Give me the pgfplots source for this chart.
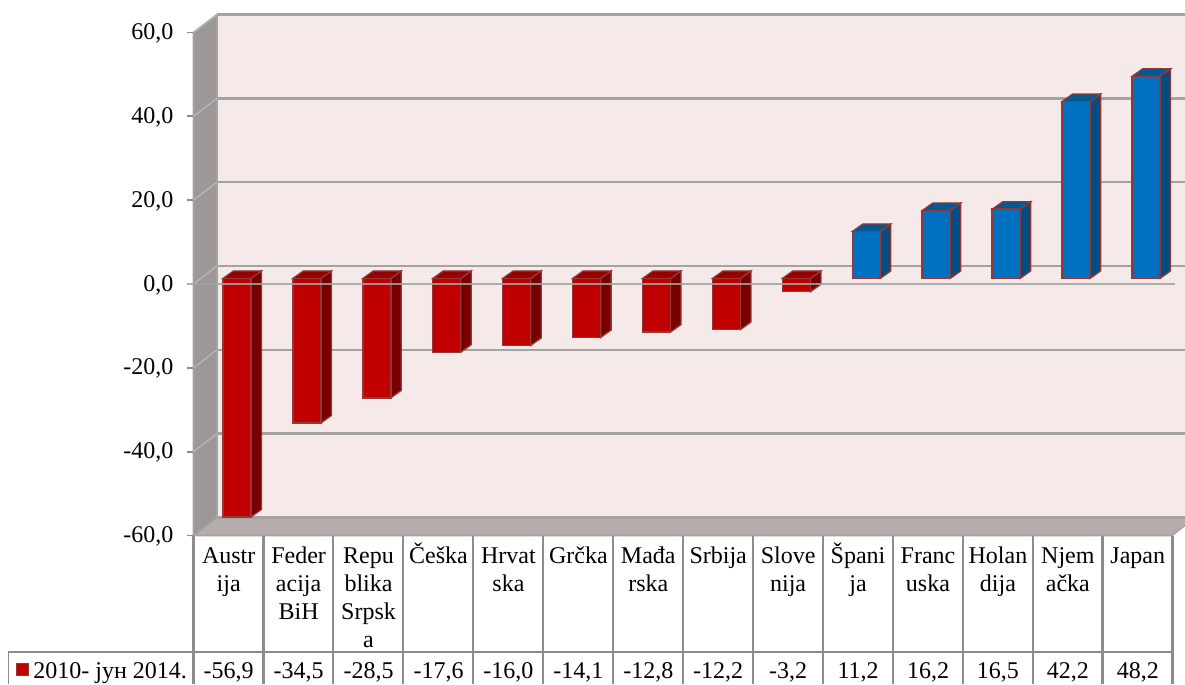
\documentclass[border=0pt]{standalone}
\usepackage{fontspec}
\setmainfont{Liberation Serif}
\usepackage{pgfplots}
\pgfplotsset{compat=1.18}
\definecolor{wall}{HTML}{F5E9E9}
\definecolor{sidewall}{HTML}{9E9797}
\definecolor{floorc}{HTML}{B8ADAD}
\definecolor{gridc}{HTML}{A3A3A0}
\definecolor{tablec}{HTML}{8C8C8C}
\definecolor{redf}{HTML}{C00000}
\definecolor{reds}{HTML}{780000}
\definecolor{redt}{HTML}{950000}
\definecolor{bluef}{HTML}{0070C0}
\definecolor{blues}{HTML}{024E82}
\definecolor{bluet}{HTML}{005A96}
\definecolor{edgec}{HTML}{953735}
% side and top of one bar: index, value, side colour, top colour
\newcommand{\barbox}[4]{%
  \pgfmathsetmacro{\xr}{#1+0.2}
  \pgfmathsetmacro{\xl}{#1-0.2}
  \pgfmathsetmacro{\xb}{#1+0.35}
  \pgfmathsetmacro{\xc}{#1-0.05}
  \pgfmathsetmacro{\yt}{max(#2,0)}
  \pgfmathsetmacro{\ytb}{\yt+1.789}
  \pgfmathsetmacro{\yvb}{#2+1.789}
  \addplot[fill=#3,draw=edgec,line width=1.3pt,xshift=1pt,yshift=5.6pt,forget plot] coordinates {(\xr,0)(\xr,#2)(\xb,\yvb)(\xb,1.789)} --cycle;
  \addplot[fill=#4,draw=edgec,line width=1.3pt,xshift=1pt,yshift=5.6pt,forget plot] coordinates {(\xl,\yt)(\xr,\yt)(\xb,\ytb)(\xc,\ytb)} --cycle;
}
\newcommand{\tabval}[2]{\node[anchor=base] at (axis cs:#1-0.104,-94.2) {#2};}
% same first-line height for every category label
\newcommand{\fl}{\rule{0pt}{22pt}}
\begin{document}
\begin{tikzpicture}
\begin{axis}[
  scale only axis,
  width=1185pt, height=684pt,
  xmin=-3.3748, xmax=13.571,
  ymin=-95.42, ymax=67.75,
  axis line style={draw=none},
  major tick length=0pt,
  tick style={draw=none},
  font=\fontsize{24}{28}\selectfont,
  ytick={-60,-40,-20,0,20,40,60},
  yticklabels={{-60,0},{-40,0},{-20,0},{0,0},{20,0},{40,0},{60,0}},
  yticklabel style={anchor=east,xshift=173.5pt,yshift=-1pt,inner sep=0pt},
  xtick={0,...,13},
  xticklabels={{\fl Austr\\ija},{\fl Feder\\acija\\BiH},{\fl Repu\\blika\\Srpsk\\a},{\fl Češka},{\fl Hrvat\\ska},{\fl Grčka},{\fl Mađa\\rska},{\fl Srbija},{\fl Slove\\nija},{\fl Špani\\ja},{\fl Franc\\uska},{\fl Holan\\dija},{\fl Njem\\ačka},{\fl Japan}},
  xticklabel style={align=center,anchor=north,xshift=-7.3pt,yshift=143pt,inner sep=0pt},
]
% back wall, side wall, floor
\addplot[fill=wall,draw=none,forget plot] coordinates {(-0.2717,64.29)(14,64.29)(14,-55.71)(-0.2717,-55.71)} --cycle;
\addplot[fill=sidewall,draw=gridc,line width=1.6pt,forget plot] coordinates {(-0.6078,60)(-0.2717,64.29)(-0.2717,-55.71)(-0.6078,-60)} --cycle;
\addplot[fill=floorc,draw=gridc,line width=1.6pt,forget plot] coordinates {(-0.6078,-60)(-0.2717,-55.71)(13.714,-55.71)(13.385,-60)} --cycle;
% gridlines on the wall and their run along the side wall
\pgfplotsinvokeforeach{-40,-20,0,20,40,60}{
  \addplot[gridc,line width=2.4pt,forget plot] coordinates {(-0.2717,#1+4.29)(14,#1+4.29)};
  \addplot[gridc!80!white,line width=1.4pt,forget plot] coordinates {(-0.6078,#1)(-0.2717,#1+4.29)};
}
\addplot[gridc,line width=2.4pt,forget plot] coordinates {(-0.2717,-55.71)(14,-55.71)};
% left tick marks
\pgfplotsinvokeforeach{-60,-40,-20,20,40,60}{
  \addplot[tablec,line width=1.8pt,forget plot] coordinates {(-0.70,#1)(-0.6078,#1)};
}
% bar sides and tops
\barbox{0}{-56.9}{reds}{redt}
\barbox{1}{-34.5}{reds}{redt}
\barbox{2}{-28.5}{reds}{redt}
\barbox{3}{-17.6}{reds}{redt}
\barbox{4}{-16.0}{reds}{redt}
\barbox{5}{-14.1}{reds}{redt}
\barbox{6}{-12.8}{reds}{redt}
\barbox{7}{-12.2}{reds}{redt}
\barbox{8}{-3.2}{reds}{redt}
\barbox{9}{11.2}{blues}{bluet}
\barbox{10}{16.2}{blues}{bluet}
\barbox{11}{16.5}{blues}{bluet}
\barbox{12}{42.2}{blues}{bluet}
\barbox{13}{48.2}{blues}{bluet}
% bar fronts
\addplot[ybar,bar shift=0pt,bar width=28pt,fill=redf,draw=edgec,line width=1.3pt,xshift=1pt,yshift=5.6pt] coordinates {
  (0,-56.9)(1,-34.5)(2,-28.5)(3,-17.6)(4,-16.0)(5,-14.1)(6,-12.8)(7,-12.2)(8,-3.2)};
\addplot[ybar,bar shift=0pt,bar width=28pt,fill=bluef,draw=edgec,line width=1.6pt,xshift=1pt,yshift=5.6pt] coordinates {
  (9,11.2)(10,16.2)(11,16.5)(12,42.2)(13,48.2)};
% zero line in front of the bars
\addplot[gridc,line width=2.4pt,opacity=0.85,forget plot] coordinates {(-0.70,0)(13.43,0)};
% data table
\pgfplotsinvokeforeach{0,...,14}{
  \draw[tablec,line width=2.2pt] (axis cs:#1-0.6078,-60) -- (axis cs:#1-0.6078,-95.42);
}
\draw[tablec,line width=1.8pt] (axis cs:-3.2535,-95.42) -- (axis cs:-3.2535,-87.7) -- (axis cs:13.392,-87.7);
\fill[redf,draw=edgec,line width=0.8pt] (axis cs:-3.146,-90.4) rectangle (axis cs:-2.974,-93.3);
\node[anchor=base west,inner sep=0pt] at (axis cs:-2.90,-94.2) {2010- јун 2014.};
\tabval{0}{-56,9}
\tabval{1}{-34,5}
\tabval{2}{-28,5}
\tabval{3}{-17,6}
\tabval{4}{-16,0}
\tabval{5}{-14,1}
\tabval{6}{-12,8}
\tabval{7}{-12,2}
\tabval{8}{-3,2}
\tabval{9}{11,2}
\tabval{10}{16,2}
\tabval{11}{16,5}
\tabval{12}{42,2}
\tabval{13}{48,2}
\end{axis}
\end{tikzpicture}
\end{document}
